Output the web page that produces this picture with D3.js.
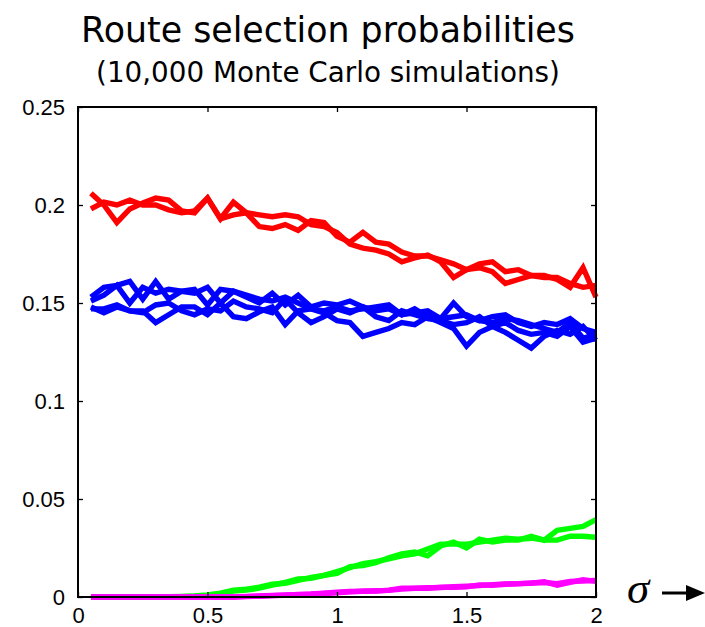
<!DOCTYPE html>
<html>
<head>
<meta charset="utf-8">
<script src="https://cdn.jsdelivr.net/npm/d3@7"></script>
<style>
  body { margin: 0; background: #fff; }
  svg { display: block; }
</style>
</head>
<body>
<svg id="chart" width="705" height="627"></svg>
<script>
// sigma grid (x values)
const sigma = [0.05,0.10,0.15,0.20,0.25,0.30,0.35,0.40,0.45,0.50,0.55,0.60,0.65,0.70,0.75,0.80,0.85,0.90,0.95,1.00,
               1.05,1.10,1.15,1.20,1.25,1.30,1.35,1.40,1.45,1.50,1.55,1.60,1.65,1.70,1.75,1.80,1.85,1.90,1.95,2.00];

// route probabilities
const red1 = [.206,.200,.191,.198,.201,.2035,.2025,.197,.196,.2035,.193,.2015,.196,.189,.188,.190,.187,.192,.191,.184,
              .181,.186,.181,.180,.176,.174,.174,.172,.170,.167,.170,.171,.166,.167,.164,.164,.162,.158,.168,.153];
const red2 = [.198,.2015,.200,.2025,.200,.200,.1975,.196,.197,.2035,.193,.195,.196,.195,.194,.195,.194,.190,.189,.186,
              .180,.178,.177,.175,.171,.173,.1745,.171,.163,.167,.168,.166,.160,.162,.164,.163,.163,.160,.158,.159];
const blue1 = [.153,.158,.159,.161,.152,.161,.152,.156,.155,.158,.150,.156,.153,.150,.155,.149,.154,.148,.150,.149,
               .151,.148,.146,.147,.144,.145,.146,.142,.143,.144,.141,.143,.144,.140,.138,.140,.139,.142,.137,.135];
const blue2 = [.151,.154,.159,.150,.158,.155,.157,.156,.157,.149,.157,.156,.154,.152,.151,.153,.150,.147,.146,.148,
               .146,.147,.148,.149,.144,.147,.143,.142,.150,.143,.141,.140,.142,.141,.139,.137,.135,.140,.132,.134];
const blue3 = [.148,.145,.148,.146,.146,.140,.144,.148,.148,.144,.150,.143,.142,.1455,.148,.139,.146,.147,.145,.141,
               .140,.133,.135,.137,.140,.139,.143,.140,.137,.128,.135,.138,.140,.136,.134,.135,.133,.138,.130,.132];
const blue4 = [.147,.147,.149,.146,.145,.149,.150,.146,.144,.147,.146,.151,.148,.147,.145,.152,.145,.140,.143,.147,
               .145,.148,.143,.141,.146,.144,.142,.141,.139,.140,.143,.138,.135,.131,.127,.133,.136,.134,.138,.131];
const green1 = [0,0,0,0,0,.0002,.0002,.0003,.0005,.001,.002,.0035,.004,.005,.0065,.007,.0085,.010,.011,.012,
                .0155,.016,.0175,.020,.022,.023,.021,.026,.028,.025,.0295,.028,.029,.029,.031,.029,.034,.035,.036,.0395];
const green2 = [0,0,0,0,0,.0001,.0002,.0002,.0004,.0008,.0015,.003,.0035,.0045,.006,.0075,.0092,.0095,.011,.013,
                .015,.017,.018,.0195,.021,.022,.0245,.027,.027,.027,.028,.029,.030,.0295,.030,.029,.029,.031,.031,.0305];
const magenta1 = [0,0,0,0,0,0,0,0,0,0,0,0,.0003,.0005,.0008,.001,.0012,.0015,.002,.0025,
                  .0028,.003,.003,.0035,.0045,.0045,.0045,.005,.005,.0052,.0062,.006,.0065,.0068,.007,.0078,.006,.0075,.0088,.008];
const magenta2 = [0,0,0,0,0,0,0,0,0,0,0,0,.0002,.0004,.0007,.0009,.0013,.0014,.0018,.0022,
                  .0026,.0029,.0032,.0034,.004,.0044,.0047,.0048,.0052,.0055,.0058,.0063,.0066,.0067,.0072,.0074,.0068,.008,.0082,.0085];

const xTicks = [0, 0.5, 1, 1.5, 2];
const yTicks = [0, 0.05, 0.1, 0.15, 0.2, 0.25];

const series = [
  {values: red1, color: "#ff0000"},
  {values: red2, color: "#ff0000"},
  {values: blue1, color: "#0000ff"},
  {values: blue2, color: "#0000ff"},
  {values: blue3, color: "#0000ff"},
  {values: blue4, color: "#0000ff"},
  {values: green1, color: "#00ff00"},
  {values: green2, color: "#00ff00"},
  {values: magenta1, color: "#ff00ff"},
  {values: magenta2, color: "#ff00ff"}
];

const margin = {top: 107, right: 109, bottom: 30, left: 78};
const width = 705 - margin.left - margin.right;
const height = 627 - margin.top - margin.bottom;

const svg = d3.select("#chart");
const g = svg.append("g").attr("transform", `translate(${margin.left},${margin.top})`);

const x = d3.scaleLinear().domain([0, 2]).range([0, width]);
const y = d3.scaleLinear().domain([0, 0.25]).range([height, 0]);

const fmt = d => String(d);
const tickFont = "'Liberation Sans', Arial, sans-serif";

// lines first, box on top
const line = d3.line()
  .x((d, i) => x(sigma[i]))
  .y(d => y(d));

g.append("g")
  .selectAll("path")
  .data(series)
  .enter()
  .append("path")
    .attr("fill", "none")
    .attr("stroke", d => d.color)
    .attr("stroke-width", 5.4)
    .attr("d", d => line(d.values));

// axes, ticks pointing inwards like matlab
function styleAxis(sel){
  sel.select(".domain").remove();
  sel.selectAll(".tick line").attr("stroke", "#000").attr("stroke-width", 1.3);
  sel.selectAll(".tick text").attr("font-family", tickFont).attr("font-size", 22).attr("fill", "#000");
}

g.append("g")
  .attr("transform", `translate(0,${height})`)
  .call(d3.axisBottom(x).tickValues(xTicks).tickFormat(fmt).tickSizeInner(-5).tickSizeOuter(0).tickPadding(10))
  .call(styleAxis);

g.append("g")
  .call(d3.axisTop(x).tickValues(xTicks).tickFormat("").tickSizeInner(-5).tickSizeOuter(0))
  .call(styleAxis);

g.append("g")
  .call(d3.axisLeft(y).tickValues(yTicks).tickFormat(fmt).tickSizeInner(-5).tickSizeOuter(0).tickPadding(13))
  .call(styleAxis);

g.append("g")
  .attr("transform", `translate(${width},0)`)
  .call(d3.axisRight(y).tickValues(yTicks).tickFormat("").tickSizeInner(-5).tickSizeOuter(0))
  .call(styleAxis);

g.append("rect")
  .attr("width", width)
  .attr("height", height)
  .attr("fill", "none")
  .attr("stroke", "#000")
  .attr("stroke-width", 2);

// titles, fitted to the width they take in the original
function fitText(sel, targetWidth){
  const node = sel.node();
  const size = parseFloat(sel.attr("font-size"));
  const w = node.getComputedTextLength();
  sel.attr("font-size", size * targetWidth / w);
}

const titleFont = "Tahoma, 'DejaVu Sans', sans-serif";

svg.append("text")
  .attr("x", 328).attr("y", 42)
  .attr("text-anchor", "middle")
  .attr("font-family", titleFont)
  .attr("font-size", 32)
  .text("Route selection probabilities")
  .call(fitText, 494);

svg.append("text")
  .attr("x", 328).attr("y", 82)
  .attr("text-anchor", "middle")
  .attr("font-family", titleFont)
  .attr("font-size", 24)
  .text("(10,000 Monte Carlo simulations)")
  .call(fitText, 464);

// sigma label with arrow
svg.append("text")
  .attr("x", 627).attr("y", 603)
  .attr("font-family", "'Liberation Serif', 'Times New Roman', serif")
  .attr("font-style", "italic")
  .attr("font-size", 45)
  .text("σ");

svg.append("line")
  .attr("x1", 662).attr("x2", 690)
  .attr("y1", 593).attr("y2", 593)
  .attr("stroke", "#000").attr("stroke-width", 3);

svg.append("path")
  .attr("d", "M686,585 L705,593 L686,601 Z")
  .attr("fill", "#000");
</script>
</body>
</html>
